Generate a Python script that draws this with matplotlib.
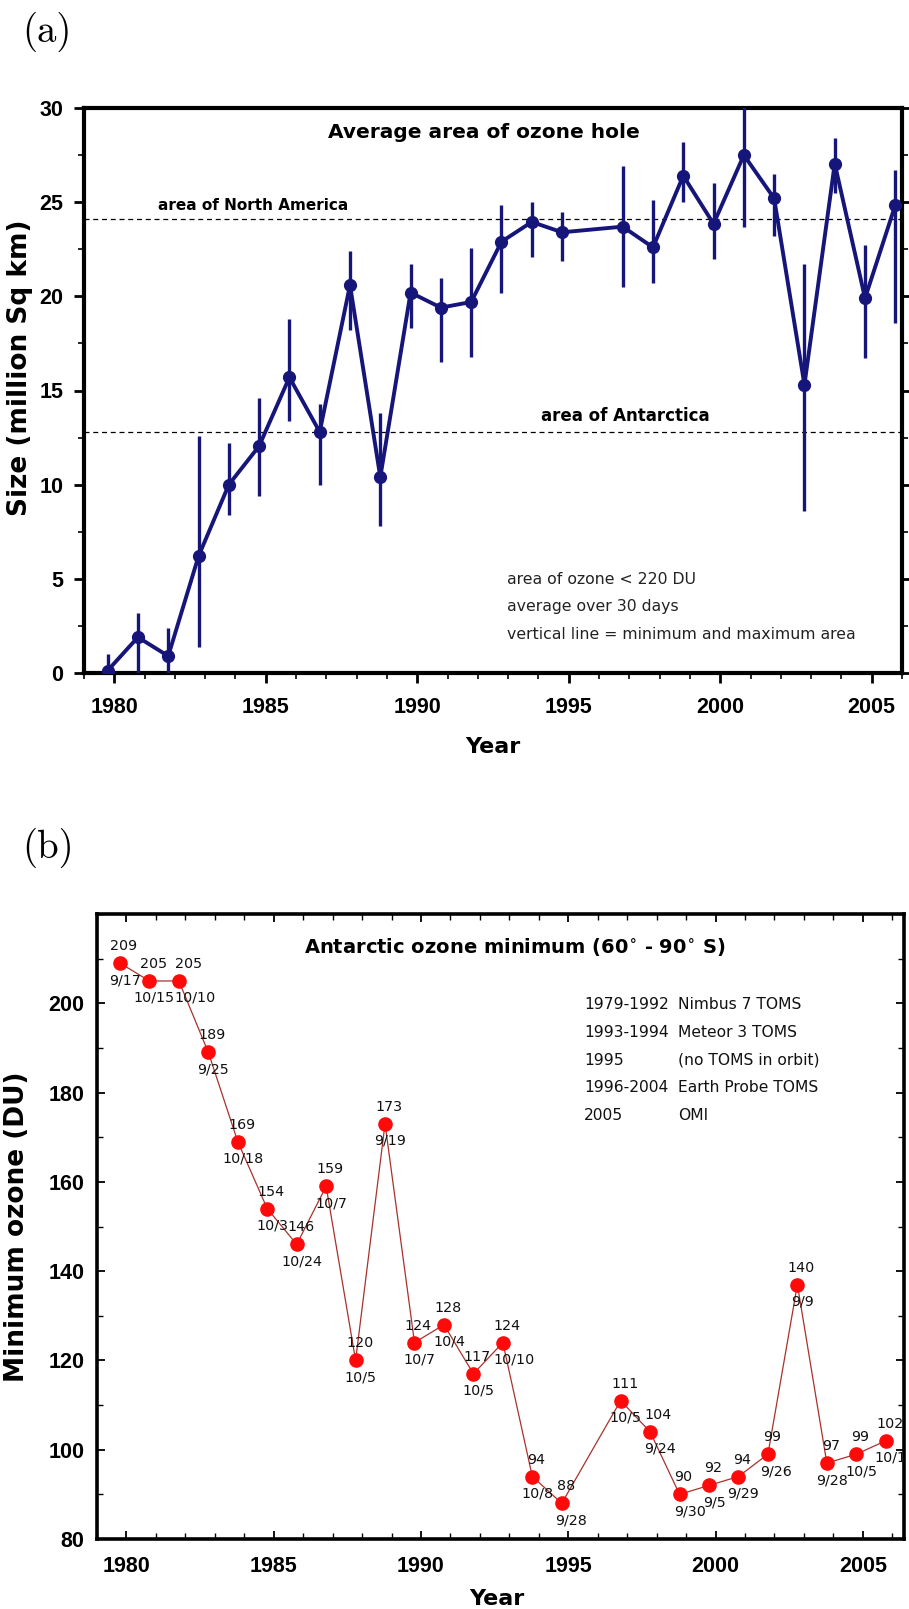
import matplotlib
matplotlib.use("Agg")
import matplotlib.pyplot as plt
from matplotlib.ticker import MultipleLocator
import numpy as np

# ---------------- data : panel (a) ----------------
years_a = [1979, 1980, 1981, 1982, 1983, 1984, 1985, 1986, 1987, 1988, 1989,
           1990, 1991, 1992, 1993, 1994, 1996, 1997, 1998, 1999, 2000, 2001,
           2002, 2003, 2004, 2005]
area_mean = [0.13, 1.9, 0.9, 6.2, 10.0, 12.05, 15.7, 12.8, 20.6, 10.4, 20.2,
             19.4, 19.7, 22.9, 23.95, 23.4, 23.7, 22.6, 26.4, 23.85, 27.5, 25.2,
             15.3, 27.05, 19.9, 24.85]
area_min = [0.0, 0.0, 0.0, 1.4, 8.4, 9.4, 13.4, 10.0, 18.2, 7.8, 18.3,
            16.5, 16.8, 20.2, 22.1, 21.9, 20.5, 20.7, 25.0, 22.0, 23.7, 23.2,
            8.6, 25.5, 16.7, 18.6]
area_max = [1.0, 3.2, 2.4, 12.6, 12.2, 14.6, 18.8, 14.3, 22.4, 13.8, 21.7,
            21.0, 22.55, 24.85, 25.0, 24.5, 26.9, 25.1, 28.2, 26.0, 30.5, 26.5,
            21.7, 28.4, 22.7, 26.7]
north_america_area = 24.1
antarctica_area = 12.8
notes_a = ["area of ozone < 220 DU", "average over 30 days",
           "vertical line = minimum and maximum area"]

# ---------------- data : panel (b) ----------------
years_b = years_a
ozone_min = [209, 205, 205, 189, 169, 154, 146, 159, 120, 173, 124, 128, 117,
             124, 94, 88, 111, 104, 90, 92, 94, 99, 137, 97, 99, 102]
ozone_labels = ["209", "205", "205", "189", "169", "154", "146", "159", "120",
                "173", "124", "128", "117", "124", "94", "88", "111", "104",
                "90", "92", "94", "99", "140", "97", "99", "102"]
ozone_dates = ["9/17", "10/15", "10/10", "9/25", "10/18", "10/3", "10/24",
               "10/7", "10/5", "9/19", "10/7", "10/4", "10/5", "10/10", "10/8",
               "9/28", "10/5", "9/24", "9/30", "9/5", "9/29", "9/26", "9/9",
               "9/28", "10/5", "10/1"]
periods = ["1979-1992", "1993-1994", "1995", "1996-2004", "2005"]
instruments = ["Nimbus 7 TOMS", "Meteor 3 TOMS", "(no TOMS in orbit)",
               "Earth Probe TOMS", "OMI"]

SEASON = 0.78  # ozone-hole season position inside each year

plt.rcParams["font.family"] = ["Liberation Sans", "DejaVu Sans"]
plt.rcParams["font.weight"] = "bold"

W, H = 909, 1609
fig = plt.figure(figsize=(W / 100, H / 100), dpi=100)

# ================= panel (a) =================
navy = "#15157a"
ax1 = fig.add_axes([84 / W, 1 - 673 / H, 818 / W, 565 / H])
xa = np.array(years_a) + SEASON
ax1.vlines(xa, area_min, area_max, color=navy, lw=2.4, zorder=3)
ax1.plot(xa, area_mean, "-o", color=navy, lw=2.8, ms=8.5, zorder=4)
ax1.axhline(north_america_area, color="black", lw=0.9, ls=(0, (4, 3)), zorder=2)
ax1.axhline(antarctica_area, color="black", lw=0.9, ls=(0, (4, 3)), zorder=2)
ax1.set_xlim(1979, 2006)
ax1.set_ylim(0, 30)
ax1.xaxis.set_major_locator(MultipleLocator(5))
ax1.xaxis.set_minor_locator(MultipleLocator(1))
ax1.yaxis.set_major_locator(MultipleLocator(5))
ax1.yaxis.set_minor_locator(MultipleLocator(2.5))
ax1.tick_params(which="major", direction="out", length=7, width=2,
                labelsize=15.5, pad=8, right=True)
ax1.tick_params(which="minor", direction="out", length=4, width=1.2, right=True)
ax1.tick_params(axis="x", which="major", pad=10)
for s in ax1.spines.values():
    s.set_linewidth(3)

ax1.text(0.489, 0.957, "Average area of ozone hole", transform=ax1.transAxes,
         ha="center", va="center", family="DejaVu Sans", weight="bold", size=14.5)
ax1.text(0.0905, 0.828, "area of North America", transform=ax1.transAxes,
         ha="left", va="center", family="DejaVu Sans", weight="bold", size=11)
ax1.text(0.559, 0.455, "area of Antarctica", transform=ax1.transAxes,
         ha="left", va="center", family="DejaVu Sans", weight="bold", size=12)
for i, t in enumerate(notes_a):
    ax1.text(0.517, 0.166 - i * 0.049, t, transform=ax1.transAxes, ha="left",
             va="center", family="DejaVu Sans", weight="normal", size=11.3,
             color="#222222")
ax1.text(-0.078, 0.54, "Size (million Sq km)", transform=ax1.transAxes,
         rotation=90, ha="center", va="center", family="DejaVu Sans",
         weight="bold", size=19)
ax1.text(0.5, -0.113, "Year", transform=ax1.transAxes, ha="center", va="top",
         family="DejaVu Sans", weight="bold", size=16)

# ================= panel (b) =================
ax2 = fig.add_axes([97 / W, 1 - 1539 / H, 807 / W, 625 / H])
xb = np.array(years_b) + SEASON
ax2.plot(xb, ozone_min, "-", color="#a8322c", lw=0.9, zorder=3)
ax2.plot(xb, ozone_min, "o", color="#ff0a0a", ms=9.5, zorder=4)
value_dx = {2: 10, 17: 8}
date_dx = {2: 16, 13: 11, 15: 9, 17: 10, 18: 10, 21: 8}
for i, (x, v, lab, d) in enumerate(zip(xb, ozone_min, ozone_labels, ozone_dates)):
    ax2.annotate(lab, (x, v), xytext=(value_dx.get(i, 4), 17),
                 textcoords="offset pixels", ha="center", va="center",
                 family="DejaVu Sans", weight="normal", size=10.3,
                 color="#111111", zorder=5)
    ax2.annotate(d, (x, v), xytext=(date_dx.get(i, 5), -17),
                 textcoords="offset pixels", ha="center", va="center",
                 family="DejaVu Sans", weight="normal", size=10.3,
                 color="#111111", zorder=5)
ax2.set_xlim(1979, 2006.4)
ax2.set_ylim(80, 220)
ax2.set_yticks(np.arange(80, 201, 20))
ax2.xaxis.set_major_locator(MultipleLocator(5))
ax2.xaxis.set_minor_locator(MultipleLocator(1))
ax2.yaxis.set_minor_locator(MultipleLocator(10))
ax2.tick_params(which="major", direction="in", length=6, width=1.3,
                labelsize=15.5, top=True, right=True)
ax2.tick_params(which="minor", direction="in", length=4, width=1.0,
                top=True, right=True)
ax2.tick_params(axis="x", which="major", pad=12)
ax2.tick_params(axis="y", which="major", pad=9)
for s in ax2.spines.values():
    s.set_linewidth(2.6)

ax2.text(0.517, 0.948, "Antarctic ozone minimum (60$^{\\circ}$ - 90$^{\\circ}$ S)",
         transform=ax2.transAxes, ha="center", va="center",
         family="DejaVu Sans", weight="bold", size=14)
row_y = [0.855, 0.810, 0.766, 0.723, 0.677]
for yy, p, ins in zip(row_y, periods, instruments):
    ax2.text(0.6035, yy, p, transform=ax2.transAxes, ha="left", va="center",
             family="DejaVu Sans", weight="normal", size=11.2, color="#111111")
    ax2.text(0.72, yy, ins, transform=ax2.transAxes, ha="left", va="center",
             family="DejaVu Sans", weight="normal", size=11.2, color="#111111")
ax2.text(-0.099, 0.50, "Minimum ozone (DU)", transform=ax2.transAxes,
         rotation=90, ha="center", va="center", family="DejaVu Sans",
         weight="bold", size=19)
ax2.text(0.496, -0.080, "Year", transform=ax2.transAxes, ha="center", va="top",
         family="DejaVu Sans", weight="bold", size=16)

# panel letters
fig.text(22 / W, 1 - 32 / H, "(a)", family="cmr10", weight="normal", size=28,
         ha="left", va="center")
fig.text(22 / W, 1 - 848 / H, "(b)", family="cmr10", weight="normal", size=28,
         ha="left", va="center")

fig.savefig("out.png", dpi=100)
